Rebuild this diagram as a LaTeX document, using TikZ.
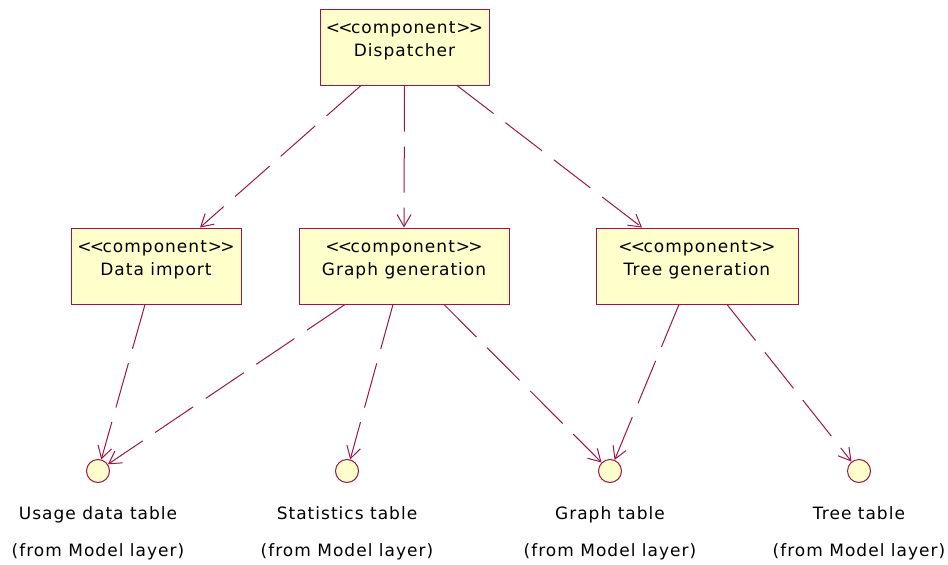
\documentclass[tikz,border=0pt]{standalone}
\usepackage{fontspec}
\setmainfont[LetterSpace=6,Ligatures=NoCommon]{DejaVu Sans}
\usetikzlibrary{arrows.meta}
\definecolor{umlline}{RGB}{160,20,70}
\definecolor{umlfill}{RGB}{255,255,204}
% stereotype with tight angle brackets
\newcommand{\stereo}{{<}\kern-1.8pt{<}\kern-1.5pt component\kern1pt{>}\kern-1.8pt{>}}
\tikzset{
  compbox/.style={draw=umlline, fill=umlfill, line width=1pt, inner sep=0pt, minimum height=76pt},
  comptext/.style={anchor=base, inner sep=0pt, font=\fontsize{17}{20}\selectfont},
  iface/.style={circle, draw=umlline, fill=umlfill, line width=1pt, minimum size=23pt, inner sep=0pt},
  ifacetext/.style={anchor=base, inner sep=0pt, font=\fontsize{17}{20}\selectfont},
  dep/.style={draw=umlline, line width=1pt, dash pattern=on 46pt off 15pt,
    -{Straight Barb[length=12pt,width=14pt,line width=1pt]}}
}
\begin{document}
\begin{tikzpicture}[x=1pt,y=-1pt]
\useasboundingbox (0,0) rectangle (948,565);

% components
\node[compbox, minimum width=169pt] (disp) at (404.5,47) {};
\node[compbox, minimum width=170pt] (imp) at (156,266) {};
\node[compbox, minimum width=210pt] (graph) at (404,266) {};
\node[compbox, minimum width=202pt] (tree) at (697,266) {};

\node[comptext] (dispa) at ([yshift=-25pt]disp.north) {\stereo};
\node[comptext] (dispb) at ([yshift=-48pt]disp.north) {Dispatcher};
\node[comptext] (impa) at ([yshift=-25pt]imp.north) {\stereo};
\node[comptext] (impb) at ([yshift=-48pt]imp.north) {Data import};
\node[comptext] (grapha) at ([yshift=-25pt]graph.north) {\stereo};
\node[comptext] (graphb) at ([yshift=-48pt]graph.north) {Graph generation};
\node[comptext] (treea) at ([yshift=-25pt]tree.north) {\stereo};
\node[comptext] (treeb) at ([yshift=-48pt]tree.north) {Tree generation};

% interfaces from the model layer
\node[iface] (usage) at (98,471) {};
\node[iface] (stats) at (347,471) {};
\node[iface] (gtab) at (610,471) {};
\node[iface] (ttab) at (859,471) {};

\node[ifacetext] (usagel) at (98,519) {Usage data table};
\node[ifacetext] (usagem) at (98,556) {(from Model layer)};
\node[ifacetext] (statsl) at (347,519) {Statistics table};
\node[ifacetext] (statsm) at (347,556) {(from Model layer)};
\node[ifacetext] (gtabl) at (610,519) {Graph table};
\node[ifacetext] (gtabm) at (610,556) {(from Model layer)};
\node[ifacetext] (ttabl) at (859,519) {Tree table};
\node[ifacetext] (ttabm) at (859,556) {(from Model layer)};

% dependencies
\draw[dep] ([xshift=-43.5pt]disp.south) -- ([xshift=44pt]imp.north);
\draw[dep] (disp.south) -- (graph.north);
\draw[dep] ([xshift=52.5pt]disp.south) -- ([xshift=-55pt]tree.north);

\draw[dep] ([xshift=-11pt]imp.south) -- (usage);
\draw[dep] ([xshift=-59pt]graph.south) -- (usage);
\draw[dep] ([xshift=-11pt]graph.south) -- (stats);
\draw[dep] ([xshift=40pt]graph.south) -- (gtab);
\draw[dep] ([xshift=-18pt]tree.south) -- (gtab);
\draw[dep] ([xshift=30pt]tree.south) -- (ttab);
\end{tikzpicture}
\end{document}
